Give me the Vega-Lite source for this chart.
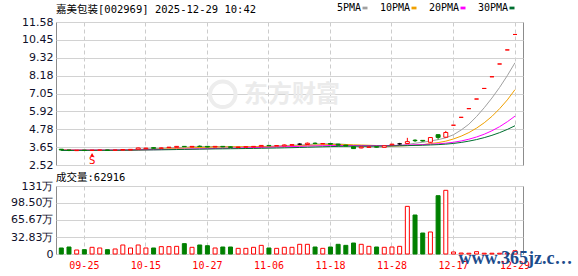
{
  "$schema": "https://vega.github.io/schema/vega-lite/v6.json",
  "background": "white",
  "padding": {"left": 5, "top": 2, "right": 0, "bottom": 0},
  "autosize": {"type": "pad"},
  "spacing": 1,
  "config": {
    "view": {"stroke": "#8c8c8c", "strokeWidth": 1},
    "axis": {"gridColor": "#d2d2d2", "gridWidth": 1, "domain": false, "ticks": false, "labelFont": "DejaVu Sans", "labelFontSize": 11, "labelColor": "#10102a", "title": null, "labelOverlap": false},
    "title": {"font": "DejaVu Sans Mono, Noto Sans CJK SC", "fontSize": 10.5, "fontWeight": "normal", "color": "#000000", "anchor": "start", "frame": "group"}
  },
  "datasets": {
    "k": [
      {"d": "09-22", "o": 3.52, "h": 3.53, "l": 3.45, "c": 3.47, "v": 11.6, "dir": "down", "m5": 3.478, "m10": 3.479, "m20": 3.462, "m30": 3.441},
      {"d": "09-23", "o": 3.47, "h": 3.48, "l": 3.40, "c": 3.44, "v": 13.5, "dir": "down", "m5": 3.470, "m10": 3.475, "m20": 3.463, "m30": 3.443},
      {"d": "09-24", "o": 3.43, "h": 3.47, "l": 3.42, "c": 3.45, "v": 7.7, "dir": "up", "m5": 3.464, "m10": 3.472, "m20": 3.464, "m30": 3.445},
      {"d": "09-25", "o": 3.46, "h": 3.47, "l": 3.43, "c": 3.44, "v": 8.4, "dir": "down", "m5": 3.456, "m10": 3.468, "m20": 3.464, "m30": 3.447},
      {"d": "09-26", "o": 3.44, "h": 3.47, "l": 3.43, "c": 3.46, "v": 12.9, "dir": "up", "m5": 3.452, "m10": 3.466, "m20": 3.465, "m30": 3.449, "tag": "S"},
      {"d": "09-29", "o": 3.45, "h": 3.48, "l": 3.44, "c": 3.47, "v": 11.6, "dir": "up", "m5": 3.452, "m10": 3.465, "m20": 3.467, "m30": 3.451},
      {"d": "09-30", "o": 3.47, "h": 3.48, "l": 3.44, "c": 3.45, "v": 8.4, "dir": "down", "m5": 3.454, "m10": 3.462, "m20": 3.467, "m30": 3.453},
      {"d": "10-09", "o": 3.45, "h": 3.48, "l": 3.44, "c": 3.47, "v": 9.7, "dir": "up", "m5": 3.458, "m10": 3.461, "m20": 3.468, "m30": 3.455},
      {"d": "10-10", "o": 3.46, "h": 3.52, "l": 3.45, "c": 3.50, "v": 17.4, "dir": "up", "m5": 3.470, "m10": 3.463, "m20": 3.471, "m30": 3.458},
      {"d": "10-13", "o": 3.47, "h": 3.52, "l": 3.46, "c": 3.51, "v": 11.6, "dir": "up", "m5": 3.480, "m10": 3.466, "m20": 3.473, "m30": 3.461},
      {"d": "10-14", "o": 3.52, "h": 3.62, "l": 3.51, "c": 3.60, "v": 17.4, "dir": "up", "m5": 3.506, "m10": 3.479, "m20": 3.480, "m30": 3.468},
      {"d": "10-15", "o": 3.55, "h": 3.61, "l": 3.53, "c": 3.59, "v": 11.6, "dir": "up", "m5": 3.534, "m10": 3.494, "m20": 3.487, "m30": 3.473},
      {"d": "10-16", "o": 3.62, "h": 3.64, "l": 3.56, "c": 3.58, "v": 11.6, "dir": "down", "m5": 3.556, "m10": 3.507, "m20": 3.492, "m30": 3.478},
      {"d": "10-17", "o": 3.58, "h": 3.62, "l": 3.57, "c": 3.60, "v": 14.2, "dir": "up", "m5": 3.576, "m10": 3.523, "m20": 3.498, "m30": 3.484},
      {"d": "10-20", "o": 3.62, "h": 3.66, "l": 3.61, "c": 3.65, "v": 14.2, "dir": "up", "m5": 3.604, "m10": 3.542, "m20": 3.507, "m30": 3.491},
      {"d": "10-21", "o": 3.64, "h": 3.72, "l": 3.63, "c": 3.70, "v": 14.8, "dir": "up", "m5": 3.624, "m10": 3.565, "m20": 3.518, "m30": 3.500},
      {"d": "10-22", "o": 3.70, "h": 3.72, "l": 3.66, "c": 3.68, "v": 20.0, "dir": "down", "m5": 3.642, "m10": 3.588, "m20": 3.527, "m30": 3.508},
      {"d": "10-23", "o": 3.66, "h": 3.71, "l": 3.65, "c": 3.70, "v": 12.9, "dir": "up", "m5": 3.666, "m10": 3.611, "m20": 3.538, "m30": 3.516},
      {"d": "10-24", "o": 3.71, "h": 3.76, "l": 3.66, "c": 3.69, "v": 17.4, "dir": "down", "m5": 3.684, "m10": 3.630, "m20": 3.548, "m30": 3.524},
      {"d": "10-27", "o": 3.70, "h": 3.72, "l": 3.64, "c": 3.66, "v": 16.0, "dir": "down", "m5": 3.686, "m10": 3.645, "m20": 3.556, "m30": 3.531},
      {"d": "10-28", "o": 3.66, "h": 3.71, "l": 3.65, "c": 3.70, "v": 11.6, "dir": "up", "m5": 3.686, "m10": 3.655, "m20": 3.567, "m30": 3.539},
      {"d": "10-29", "o": 3.70, "h": 3.72, "l": 3.65, "c": 3.67, "v": 13.5, "dir": "down", "m5": 3.684, "m10": 3.663, "m20": 3.579, "m30": 3.545, "logo": 1},
      {"d": "10-30", "o": 3.67, "h": 3.69, "l": 3.62, "c": 3.64, "v": 13.5, "dir": "down", "m5": 3.672, "m10": 3.669, "m20": 3.588, "m30": 3.551},
      {"d": "10-31", "o": 3.63, "h": 3.67, "l": 3.62, "c": 3.66, "v": 10.9, "dir": "up", "m5": 3.666, "m10": 3.675, "m20": 3.599, "m30": 3.557},
      {"d": "11-03", "o": 3.65, "h": 3.69, "l": 3.64, "c": 3.68, "v": 10.9, "dir": "up", "m5": 3.670, "m10": 3.678, "m20": 3.610, "m30": 3.564},
      {"d": "11-04", "o": 3.66, "h": 3.71, "l": 3.65, "c": 3.70, "v": 12.9, "dir": "up", "m5": 3.670, "m10": 3.678, "m20": 3.622, "m30": 3.571},
      {"d": "11-05", "o": 3.68, "h": 3.78, "l": 3.67, "c": 3.76, "v": 16.7, "dir": "up", "m5": 3.688, "m10": 3.686, "m20": 3.637, "m30": 3.580},
      {"d": "11-06", "o": 3.76, "h": 3.78, "l": 3.72, "c": 3.74, "v": 11.6, "dir": "down", "m5": 3.708, "m10": 3.690, "m20": 3.651, "m30": 3.589},
      {"d": "11-07", "o": 3.73, "h": 3.76, "l": 3.72, "c": 3.75, "v": 10.9, "dir": "up", "m5": 3.726, "m10": 3.696, "m20": 3.663, "m30": 3.597},
      {"d": "11-10", "o": 3.73, "h": 3.82, "l": 3.72, "c": 3.79, "v": 12.9, "dir": "up", "m5": 3.748, "m10": 3.709, "m20": 3.677, "m30": 3.607},
      {"d": "11-11", "o": 3.77, "h": 3.82, "l": 3.76, "c": 3.81, "v": 12.9, "dir": "up", "m5": 3.770, "m10": 3.720, "m20": 3.688, "m30": 3.618, "wm": "东方财富"},
      {"d": "11-12", "o": 3.84, "h": 3.90, "l": 3.78, "c": 3.84, "v": 18.7, "dir": "flat", "m5": 3.786, "m10": 3.737, "m20": 3.700, "m30": 3.631},
      {"d": "11-13", "o": 3.82, "h": 3.94, "l": 3.80, "c": 3.90, "v": 18.7, "dir": "up", "m5": 3.818, "m10": 3.763, "m20": 3.716, "m30": 3.646},
      {"d": "11-14", "o": 3.90, "h": 3.95, "l": 3.84, "c": 3.88, "v": 13.5, "dir": "down", "m5": 3.844, "m10": 3.785, "m20": 3.730, "m30": 3.661},
      {"d": "11-17", "o": 3.86, "h": 3.90, "l": 3.84, "c": 3.88, "v": 10.9, "dir": "up", "m5": 3.862, "m10": 3.805, "m20": 3.742, "m30": 3.675},
      {"d": "11-18", "o": 3.88, "h": 3.90, "l": 3.82, "c": 3.84, "v": 13.5, "dir": "down", "m5": 3.868, "m10": 3.819, "m20": 3.749, "m30": 3.687},
      {"d": "11-19", "o": 3.84, "h": 3.86, "l": 3.76, "c": 3.78, "v": 18.7, "dir": "down", "m5": 3.856, "m10": 3.821, "m20": 3.754, "m30": 3.698},
      {"d": "11-20", "o": 3.78, "h": 3.80, "l": 3.70, "c": 3.72, "v": 16.7, "dir": "down", "m5": 3.820, "m10": 3.819, "m20": 3.755, "m30": 3.707},
      {"d": "11-21", "o": 3.68, "h": 3.71, "l": 3.54, "c": 3.56, "v": 21.2, "dir": "down", "m5": 3.756, "m10": 3.800, "m20": 3.748, "m30": 3.709},
      {"d": "11-24", "o": 3.60, "h": 3.68, "l": 3.58, "c": 3.66, "v": 18.7, "dir": "up", "m5": 3.712, "m10": 3.787, "m20": 3.748, "m30": 3.714},
      {"d": "11-25", "o": 3.64, "h": 3.68, "l": 3.62, "c": 3.66, "v": 14.8, "dir": "up", "m5": 3.676, "m10": 3.772, "m20": 3.746, "m30": 3.716},
      {"d": "11-26", "o": 3.68, "h": 3.70, "l": 3.63, "c": 3.65, "v": 13.5, "dir": "down", "m5": 3.650, "m10": 3.753, "m20": 3.745, "m30": 3.718},
      {"d": "11-27", "o": 3.64, "h": 3.76, "l": 3.63, "c": 3.74, "v": 12.9, "dir": "up", "m5": 3.654, "m10": 3.737, "m20": 3.750, "m30": 3.723},
      {"d": "11-28", "o": 3.80, "h": 3.86, "l": 3.79, "c": 3.84, "v": 13.5, "dir": "up", "m5": 3.710, "m10": 3.733, "m20": 3.759, "m30": 3.731},
      {"d": "12-01", "o": 3.86, "h": 3.92, "l": 3.80, "c": 3.86, "v": 14.8, "dir": "flat", "m5": 3.750, "m10": 3.731, "m20": 3.768, "m30": 3.738},
      {"d": "12-02", "o": 3.88, "h": 4.24, "l": 3.86, "c": 4.00, "v": 92.0, "dir": "up", "m5": 3.818, "m10": 3.747, "m20": 3.783, "m30": 3.748},
      {"d": "12-03", "o": 4.09, "h": 4.15, "l": 3.98, "c": 4.06, "v": 75.3, "dir": "down", "m5": 3.900, "m10": 3.775, "m20": 3.798, "m30": 3.761},
      {"d": "12-04", "o": 4.08, "h": 4.10, "l": 4.00, "c": 4.04, "v": 40.5, "dir": "down", "m5": 3.960, "m10": 3.807, "m20": 3.813, "m30": 3.772},
      {"d": "12-05", "o": 3.96, "h": 4.28, "l": 3.92, "c": 4.26, "v": 42.5, "dir": "up", "m5": 4.044, "m10": 3.877, "m20": 3.839, "m30": 3.791},
      {"d": "12-08", "o": 4.44, "h": 4.46, "l": 4.14, "c": 4.27, "v": 112.6, "dir": "down", "m5": 4.126, "m10": 3.938, "m20": 3.863, "m30": 3.811},
      {"d": "12-09", "o": 4.28, "h": 4.68, "l": 4.25, "c": 4.58, "v": 123.0, "dir": "up", "m5": 4.242, "m10": 4.030, "m20": 3.901, "m30": 3.841},
      {"d": "12-17", "o": 5.04, "h": 5.04, "l": 5.04, "c": 5.04, "v": 3.9, "dir": "up", "m5": 4.438, "m10": 4.169, "m20": 3.961, "m30": 3.886, "wm2": "www.365jz.com"},
      {"d": "12-18", "o": 5.54, "h": 5.54, "l": 5.54, "c": 5.54, "v": 1.9, "dir": "up", "m5": 4.738, "m10": 4.349, "m20": 4.043, "m30": 3.950},
      {"d": "12-19", "o": 6.09, "h": 6.09, "l": 6.09, "c": 6.09, "v": 1.5, "dir": "up", "m5": 5.104, "m10": 4.574, "m20": 4.154, "m30": 4.031},
      {"d": "12-22", "o": 6.70, "h": 6.70, "l": 6.70, "c": 6.70, "v": 4.5, "dir": "up", "m5": 5.590, "m10": 4.858, "m20": 4.295, "m30": 4.131},
      {"d": "12-23", "o": 7.37, "h": 7.37, "l": 7.37, "c": 7.37, "v": 1.5, "dir": "up", "m5": 6.148, "m10": 5.195, "m20": 4.471, "m30": 4.254},
      {"d": "12-24", "o": 8.11, "h": 8.11, "l": 8.11, "c": 8.11, "v": 1.5, "dir": "up", "m5": 6.762, "m10": 5.600, "m20": 4.688, "m30": 4.399},
      {"d": "12-25", "o": 8.92, "h": 8.92, "l": 8.92, "c": 8.92, "v": 1.5, "dir": "up", "m5": 7.438, "m10": 6.088, "m20": 4.948, "m30": 4.571},
      {"d": "12-26", "o": 9.81, "h": 9.81, "l": 9.81, "c": 9.81, "v": 1.5, "dir": "up", "m5": 8.182, "m10": 6.643, "m20": 5.260, "m30": 4.773},
      {"d": "12-29", "o": 10.79, "h": 10.79, "l": 10.79, "c": 10.79, "v": 6.29, "dir": "up", "m5": 9.000, "m10": 7.295, "m20": 5.617, "m30": 5.007}
    ]
  },
  "resolve": {"scale": {"fill": "independent", "stroke": "independent", "color": "independent"}},
  "vconcat": [
    {
      "width": 467,
      "height": 143,
      "title": {"text": "嘉美包装[002969] 2025-12-29 10:42", "offset": -12},
      "data": {"name": "k"},
      "encoding": {
        "x": {
          "field": "d", "type": "ordinal", "sort": null,
          "scale": {"type": "band", "paddingInner": 0, "paddingOuter": 0.365, "align": 0.26},
          "axis": {"values": ["09-25", "10-15", "10-27", "11-06", "11-18", "11-28", "12-17", "12-29"], "labels": false, "grid": true, "gridDash": [4, 3], "gridColor": "#cccccc", "minExtent": 0, "maxExtent": 0}
        },
        "y": {
          "type": "quantitative",
          "scale": {"domain": [2.52, 11.58], "nice": false, "zero": false},
          "axis": {"values": [2.52, 3.65, 4.78, 5.92, 7.05, 8.18, 9.32, 10.45, 11.58], "format": ".2f", "grid": true, "labelPadding": 3, "minExtent": 50, "maxExtent": 50}
        }
      },
      "layer": [
        {
          "mark": {"type": "text", "font": "Noto Sans CJK SC", "fontSize": 24, "fontWeight": "bold", "color": "#ebebeb"},
          "encoding": {
            "text": {"condition": {"test": "datum.wm", "field": "wm"}, "value": ""},
            "y": {"datum": 6.95, "type": "quantitative"}
          }
        },
        {
          "mark": {"type": "point", "shape": "circle", "size": 650, "filled": false, "strokeWidth": 4, "color": "#ededed"},
          "encoding": {
            "y": {"datum": 7.0, "type": "quantitative"},
            "opacity": {"condition": {"test": "datum.logo", "value": 1}, "value": 0}
          }
        },
        {
          "transform": [{"fold": ["m5", "m10", "m20", "m30"], "as": ["ma", "val"]}],
          "mark": {"type": "line", "strokeWidth": 1},
          "encoding": {
            "y": {"field": "val", "type": "quantitative"},
            "color": {
              "field": "ma", "type": "nominal",
              "scale": {"domain": ["m5", "m10", "m20", "m30"], "range": ["#a0a0a0", "#f0a000", "#ff00ff", "#006f30"]},
              "legend": {
                "orient": "none", "legendX": 304, "legendY": -19, "direction": "horizontal", "title": null,
                "labelExpr": "{'m5':'5PMA','m10':'10PMA','m20':'20PMA','m30':'30PMA'}[datum.value]",
                "labelFont": "DejaVu Sans Mono", "labelFontSize": 10, "labelColor": "#000000",
                "symbolType": "M-1,-0.25H1V0.25H-1Z", "symbolSize": 9, "symbolStrokeWidth": 2,
                "labelAlign": "right", "labelOffset": -9, "columnPadding": 8, "padding": 0
              }
            }
          }
        },
        {
          "mark": {"type": "rule", "strokeWidth": 1},
          "encoding": {
            "y": {"field": "l", "type": "quantitative"},
            "y2": {"field": "h"},
            "stroke": {"field": "dir", "type": "nominal", "scale": {"domain": ["up", "down", "flat"], "range": ["#ff0000", "#008000", "#000000"]}, "legend": null}
          }
        },
        {
          "mark": {"type": "bar", "size": 4, "strokeWidth": 1},
          "encoding": {
            "y": {"field": "o", "type": "quantitative"},
            "y2": {"field": "c"},
            "stroke": {"field": "dir", "type": "nominal", "legend": null},
            "fill": {"field": "dir", "type": "nominal", "scale": {"domain": ["up", "down", "flat"], "range": ["#ffffff", "#008000", "#000000"]}, "legend": null}
          }
        },
        {
          "mark": {"type": "text", "font": "DejaVu Sans", "fontSize": 10, "color": "#ff0000"},
          "encoding": {
            "text": {"condition": {"test": "datum.tag", "field": "tag"}, "value": ""},
            "y": {"datum": 2.8, "type": "quantitative"}
          }
        },
        {
          "mark": {"type": "point", "shape": "triangle-up", "size": 14, "filled": true, "color": "#ff0000"},
          "encoding": {
            "y": {"datum": 3.18, "type": "quantitative"},
            "opacity": {"condition": {"test": "datum.tag", "value": 1}, "value": 0}
          }
        }
      ]
    },
    {
      "width": 467,
      "height": 68,
      "title": {"text": "成交量:62916", "offset": -3},
      "data": {"name": "k"},
      "encoding": {
        "x": {
          "field": "d", "type": "ordinal", "sort": null,
          "scale": {"type": "band", "paddingInner": 0, "paddingOuter": 0.365, "align": 0.26},
          "axis": {"values": ["09-25", "10-15", "10-27", "11-06", "11-18", "11-28", "12-17", "12-29"], "labelAngle": 0, "labelFont": "DejaVu Sans Mono", "labelFontSize": 10, "labelColor": "#ff0000", "labelPadding": 6, "grid": true, "gridDash": [4, 3], "gridColor": "#cccccc"}
        },
        "y": {
          "type": "quantitative",
          "scale": {"domain": [0, 131.33], "nice": false},
          "axis": {"values": [0, 32.83, 65.67, 98.5, 131.33], "labelExpr": "datum.value == 0 ? '0' : (datum.value > 131 ? '131万' : format(datum.value, '.2f') + '万')", "grid": true, "labelPadding": 3, "minExtent": 50, "maxExtent": 50}
        }
      },
      "layer": [
        {
          "mark": {"type": "bar", "size": 4, "strokeWidth": 1},
          "encoding": {
            "y": {"field": "v", "type": "quantitative"},
            "stroke": {"field": "dir", "type": "nominal", "scale": {"domain": ["up", "down", "flat"], "range": ["#ff0000", "#008000", "#ff0000"]}, "legend": null},
            "fill": {"field": "dir", "type": "nominal", "scale": {"domain": ["up", "down", "flat"], "range": ["#ffffff", "#008000", "#ffffff"]}, "legend": null}
          }
        },
        {
          "mark": {"type": "text", "font": "Liberation Serif", "fontSize": 18, "fontWeight": "bold", "color": "#1c4c8c", "align": "left", "baseline": "alphabetic", "dx": 5, "limit": 116, "ellipsis": ""},
          "encoding": {
            "text": {"condition": {"test": "datum.wm2", "field": "wm2"}, "value": ""},
            "y": {"datum": -20, "type": "quantitative"}
          }
        }
      ]
    }
  ]
}
